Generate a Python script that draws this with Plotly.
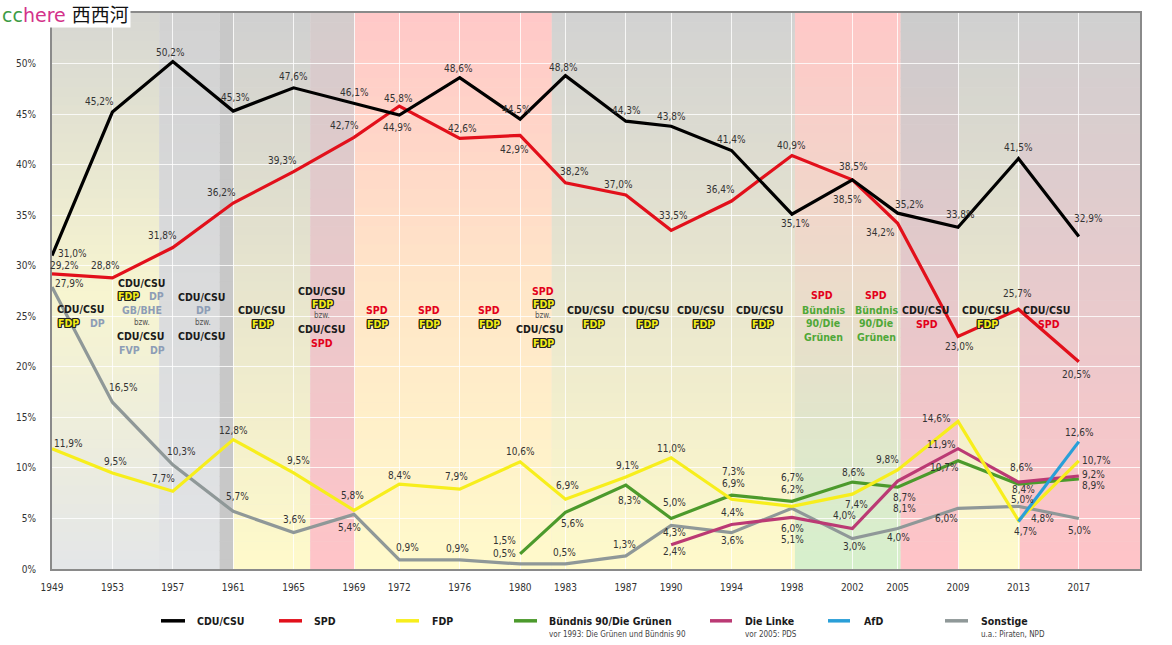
import plotly.graph_objects as go

W, H = 1172, 645
L, R, T, B = 52, 32, 11, 76
PW, PH = W - L - R, H - T - B
X0, X1 = 1949.0, 2021.05
Y0, Y1 = 0.0, 55.0

FONT = "DejaVu Sans Condensed, DejaVu Sans, sans-serif"

# ---------------- data ----------------
years = [1949, 1953, 1957, 1961, 1965, 1969, 1972, 1976, 1980, 1983,
         1987, 1990, 1994, 1998, 2002, 2005, 2009, 2013, 2017]
cdu = [31.0, 45.2, 50.2, 45.3, 47.6, 46.1, 44.9, 48.6, 44.5, 48.8,
       44.3, 43.8, 41.4, 35.1, 38.5, 35.2, 33.8, 40.6, 32.9]
spd = [29.2, 28.8, 31.8, 36.2, 39.3, 42.7, 45.8, 42.6, 42.9, 38.2,
       37.0, 33.5, 36.4, 40.9, 38.5, 34.2, 23.0, 25.7, 20.5]
fdp = [11.9, 9.5, 7.7, 12.8, 9.5, 5.8, 8.4, 7.9, 10.6, 6.9,
       9.1, 11.0, 6.9, 6.2, 7.4, 9.8, 14.6, 4.8, 10.7]
gruene_years = [1980, 1983, 1987, 1990, 1994, 1998, 2002, 2005, 2009, 2013, 2017]
gruene = [1.5, 5.6, 8.3, 5.0, 7.3, 6.7, 8.6, 8.1, 10.7, 8.4, 8.9]
linke_years = [1990, 1994, 1998, 2002, 2005, 2009, 2013, 2017]
linke = [2.4, 4.4, 5.1, 4.0, 8.7, 11.9, 8.6, 9.2]
afd_years = [2013, 2017]
afd = [4.7, 12.6]
sonstige = [27.9, 16.5, 10.3, 5.7, 3.6, 5.4, 0.9, 0.9, 0.5, 0.5,
            1.3, 4.3, 3.6, 6.0, 3.0, 4.0, 6.0, 6.2, 5.0]

y_ticks = [0, 5, 10, 15, 20, 25, 30, 35, 40, 45, 50]
y_tick_labels = ["0%", "5%", "10%", "15%", "20%", "25%", "30%", "35%", "40%", "45%", "50%"]

# label texts as printed in the chart (where they differ from the plotted position)
label_override = {("cdu", 17): "41,5%", ("sonstige", 17): "5,0%"}

# label offsets (dx px, dy px upward)
off_cdu = [(20, 2), (-13, 11), (-2, 9), (2, 14), (0, 11), (0, 10), (-2, -12), (-1, 9), (-4, 10), (-2, 8),
           (1, 11), (0, 10), (0, 11), (4, -9), (1, 13), (12, 9), (2, 13), (0, 11), (10, 18)]
off_spd = [(12, 8), (-7, 12), (-10, 12), (-12, 11), (-11, 11), (-10, 12), (-1, 8), (3, 10), (-6, -14), (9, 11),
           (-7, 10), (2, 15), (-11, 12), (0, 10), (-5, -20), (-17, -9), (1, -10), (-1, 16), (-2, -13)]
off_fdp = [(16, 5), (3, 11), (-9, 13), (0, 9), (5, 12), (-2, 15), (0, 9), (-3, 13), (0, 10), (2, 14),
           (2, 12), (0, 9), (2, 16), (1, 17), (4, -10), (-10, 10), (-22, 3), (24, 2), (18, 0)]
off_gruene = [(-16, 13), (7, -11), (4, -15), (3, 16), (2, 24), (1, 24), (1, 10), (7, -21), (-14, -7), (5, -5), (15, -6)]
off_linke = [(3, -7), (1, 12), (1, -22), (-8, 13), (7, -16), (-17, 4), (3, 15), (15, 2)]
off_afd = [(7, -10), (1, 9)]
off_sonstige = [(17, 3), (11, 15), (9, 13), (4, 15), (1, 13), (-5, -13), (8, 12), (-2, 11), (-16, 10), (-1, 11),
                (-1, 11), (3, -7), (1, -8), (1, -20), (2, -8), (1, -9), (-12, -10), (4, 7), (1, -12)]

C_CDU, C_SPD, C_FDP = "#000000", "#e2101b", "#f7ee1c"
C_GRUENE, C_LINKE, C_AFD, C_SONST = "#4c9a2c", "#bb3a74", "#2a9fd8", "#8f9898"

# government bands: start, end, gradient colours top -> bottom
bands = [
    (1949.0, 1956.1, ["#d6d6d2", "#f7f5d0", "#e4e6e8"]),
    (1956.1, 1960.1, ["#d2d2d2", "#e2e4e6"]),
    (1960.1, 1961.0, ["#c8c8c8", "#c8c8c8"]),
    (1961.0, 1966.1, ["#d0d0d0", "#fffacb"]),
    (1966.1, 1969.05, ["#d4cccc", "#ffc4c8"]),
    (1969.05, 1982.1, ["#ffc8c8", "#ffe6c8", "#fffacb"]),
    (1982.1, 1998.2, ["#d2d2d2", "#fffacb"]),
    (1998.2, 2005.2, ["#ffc8c8", "#d6f0cc"]),
    (2005.2, 2009.05, ["#cccccc", "#ffc4c8"]),
    (2009.05, 2013.1, ["#d0d0d0", "#fffacb"]),
    (2013.1, 2021.05, ["#d0d0d0", "#ffc4c8"]),
]

# coalition captions (pixel positions, text, style)
coalitions = [
    (81, 308, "CDU/CSU", "cdu"), (68, 322, "FDP", "fdp"), (97, 322, "DP", "dp"),
    (142, 282, "CDU/CSU", "cdu"), (128, 295, "FDP", "fdp"), (156, 295, "DP", "dp"),
    (142, 309, "GB/BHE", "dp"), (142, 322, "bzw.", "bzw"), (141, 335, "CDU/CSU", "cdu"),
    (129, 349, "FVP", "dp"), (157, 349, "DP", "dp"),
    (202, 296, "CDU/CSU", "cdu"), (203, 309, "DP", "dp"), (203, 322, "bzw.", "bzw"), (202, 335, "CDU/CSU", "cdu"),
    (262, 309, "CDU/CSU", "cdu"), (262, 323, "FDP", "fdp"),
    (322, 290, "CDU/CSU", "cdu"), (322, 303, "FDP", "fdp"), (322, 315, "bzw.", "bzw"),
    (322, 328, "CDU/CSU", "cdu"), (322, 342, "SPD", "spd"),
    (377, 309, "SPD", "spd"), (377, 323, "FDP", "fdp"),
    (429, 309, "SPD", "spd"), (429, 323, "FDP", "fdp"),
    (489, 309, "SPD", "spd"), (489, 323, "FDP", "fdp"),
    (543, 290, "SPD", "spd"), (543, 303, "FDP", "fdp"), (543, 315, "bzw.", "bzw"),
    (540, 328, "CDU/CSU", "cdu"), (543, 342, "FDP", "fdp"),
    (591, 309, "CDU/CSU", "cdu"), (593, 323, "FDP", "fdp"),
    (646, 309, "CDU/CSU", "cdu"), (647, 323, "FDP", "fdp"),
    (701, 309, "CDU/CSU", "cdu"), (703, 323, "FDP", "fdp"),
    (760, 309, "CDU/CSU", "cdu"), (762, 323, "FDP", "fdp"),
    (822, 294, "SPD", "spd"), (823, 309, "Bündnis", "gruen"), (823, 322, "90/Die", "gruen"), (823, 336, "Grünen", "gruen"),
    (876, 294, "SPD", "spd"), (876, 309, "Bündnis", "gruen"), (876, 322, "90/Die", "gruen"), (876, 336, "Grünen", "gruen"),
    (926, 309, "CDU/CSU", "cdu"), (927, 323, "SPD", "spd"),
    (986, 309, "CDU/CSU", "cdu"), (987, 323, "FDP", "fdp"),
    (1047, 309, "CDU/CSU", "cdu"), (1049, 323, "SPD", "spd"),
]

legend_items = [
    ("CDU/CSU", C_CDU, 161, 185, 195, None),
    ("SPD", C_SPD, 279, 302, 312, None),
    ("FDP", C_FDP, 396, 419, 430, None),
    ("Bündnis 90/Die Grünen", C_GRUENE, 514, 537, 547, "vor 1993: Die Grünen und Bündnis 90"),
    ("Die Linke", C_LINKE, 710, 732, 743, "vor 2005: PDS"),
    ("AfD", C_AFD, 828, 850, 862, None),
    ("Sonstige", C_SONST, 945, 968, 979, "u.a.: Piraten, NPD"),
]


# ---------------- helpers ----------------
def px2x(px):
    return X0 + (px - L) / PW * (X1 - X0)


def py2y(py):
    return Y0 + (H - B - py) / PH * (Y1 - Y0)


def px2paper(px):
    return (px - L) / PW


def py2paper(py):
    return (H - B - py) / PH


def hex2rgb(h):
    h = h.lstrip("#")
    return tuple(int(h[i:i + 2], 16) for i in (0, 2, 4))


def grad(stops, t):
    n = len(stops) - 1
    pos = t * n
    i = min(int(pos), n - 1)
    f = pos - i
    a, b = hex2rgb(stops[i]), hex2rgb(stops[i + 1])
    c = [round(a[k] + (b[k] - a[k]) * f) for k in range(3)]
    return "rgb(%d,%d,%d)" % tuple(c)


def fmt(v):
    return ("%.1f" % v).replace(".", ",") + "%"


fig = go.Figure()

# background gradient bands
shapes = []
NS = 60
for x0, x1, stops in bands:
    for k in range(NS):
        ytop = Y1 - (Y1 - Y0) * k / NS
        ybot = Y1 - (Y1 - Y0) * (k + 1) / NS
        shapes.append(dict(type="rect", xref="x", yref="y", x0=x0, x1=x1,
                           y0=ybot - 0.06, y1=ytop, fillcolor=grad(stops, (k + 0.5) / NS),
                           line=dict(width=0), layer="below"))

series = [
    ("sonstige", years, sonstige, C_SONST, off_sonstige),
    ("gruene", gruene_years, gruene, C_GRUENE, off_gruene),
    ("linke", linke_years, linke, C_LINKE, off_linke),
    ("fdp", years, fdp, C_FDP, off_fdp),
    ("afd", afd_years, afd, C_AFD, off_afd),
    ("spd", years, spd, C_SPD, off_spd),
    ("cdu", years, cdu, C_CDU, off_cdu),
]

annotations = []
for name, xs, ys, col, offs in series:
    fig.add_trace(go.Scatter(x=xs, y=ys, mode="lines", line=dict(color=col, width=3.2),
                             name=name, showlegend=False, hoverinfo="skip"))
    for i, (xv, yv) in enumerate(zip(xs, ys)):
        dx, dy = offs[i]
        annotations.append(dict(x=xv, y=yv, xref="x", yref="y", text=label_override.get((name, i), fmt(yv)),
                                showarrow=False, xshift=dx, yshift=dy,
                                font=dict(family=FONT, size=10, color="#333")))

OUTLINE = "1px 1px 0 #222, -1px -1px 0 #222, 1px -1px 0 #222, -1px 1px 0 #222, 0 1px 0 #222, 0 -1px 0 #222, 1px 0 0 #222, -1px 0 0 #222"
styles = {
    "cdu": dict(family=FONT, size=10.5, color="#1a1a1a", weight="bold"),
    "fdp": dict(family=FONT, size=10.5, color="#f2ea16", weight="bold", shadow=OUTLINE),
    "dp": dict(family=FONT, size=10.5, color="#8d9db6", weight="bold"),
    "bzw": dict(family=FONT, size=8, color="#555"),
    "spd": dict(family=FONT, size=10.5, color="#e3001b", weight="bold"),
    "gruen": dict(family=FONT, size=10.5, color="#4fa838", weight="bold"),
}
for px, py, txt, st in coalitions:
    annotations.append(dict(x=px2x(px), y=py2y(py), xref="x", yref="y", text=txt, showarrow=False,
                            font=styles[st]))

# legend
for label, col, lx0, lx1, tx, sub in legend_items:
    shapes.append(dict(type="line", xref="paper", yref="paper", x0=px2paper(lx0), x1=px2paper(lx1),
                       y0=py2paper(621), y1=py2paper(621), line=dict(color=col, width=3.5)))
    annotations.append(dict(x=px2paper(tx), y=py2paper(621), xref="paper", yref="paper", text=label,
                            showarrow=False, xanchor="left", yanchor="middle",
                            font=dict(family=FONT, size=10.5, color="#1a1a1a", weight="bold")))
    if sub:
        annotations.append(dict(x=px2paper(tx), y=py2paper(635), xref="paper", yref="paper", text=sub,
                                showarrow=False, xanchor="left", yanchor="middle",
                                font=dict(family=FONT, size=8, color="#444")))

# watermark
annotations.append(dict(x=px2paper(0), y=py2paper(0), xref="paper", yref="paper", xanchor="left", yanchor="top",
                        text="<span style='color:#3d9b45'>cc</span><span style='color:#d3328a'>here</span> "
                             "<span style='color:#111'>西西河</span>",
                        showarrow=False, bgcolor="white", borderpad=1,
                        font=dict(family="DejaVu Sans, Noto Sans CJK SC", size=19)))

fig.update_layout(
    width=W, height=H,
    margin=dict(l=L, r=R, t=T, b=B, pad=0),
    paper_bgcolor="white", plot_bgcolor="#e8e8e8",
    shapes=shapes, annotations=annotations, showlegend=False,
    font=dict(family=FONT, size=10, color="#333"),
)
fig.update_xaxes(range=[X0, X1], tickvals=years, ticktext=[str(y) for y in years],
                 showgrid=True, gridcolor="rgba(255,255,255,0.8)", gridwidth=1,
                 showline=True, linecolor="#8a8a8a", linewidth=2, mirror=True,
                 ticks="", ticklabelstandoff=8, zeroline=False,
                 tickfont=dict(family=FONT, size=10, color="#333"))
fig.update_yaxes(range=[Y0, Y1], tickvals=y_ticks, ticktext=y_tick_labels,
                 showgrid=True, gridcolor="rgba(255,255,255,0.8)", gridwidth=1,
                 showline=True, linecolor="#8a8a8a", linewidth=2, mirror=True,
                 ticks="", ticklabelstandoff=12, zeroline=False,
                 tickfont=dict(family=FONT, size=10, color="#333"))

fig.write_html("out.html")
